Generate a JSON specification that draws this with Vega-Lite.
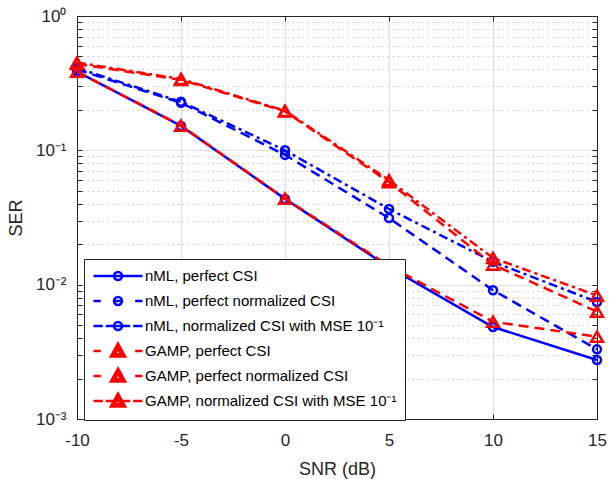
{
  "$schema": "https://vega.github.io/schema/vega-lite/v6.json",
  "width": 520,
  "height": 403,
  "autosize": {"type": "none"},
  "padding": {"left": 77, "top": 16, "right": 18, "bottom": 60},
  "background": "white",
  "config": {
    "view": {"stroke": null},
    "font": "Liberation Sans",
    "axis": {
      "domainColor": "#262626",
      "domainWidth": 1,
      "tickColor": "#262626",
      "tickWidth": 1,
      "labelColor": "#262626",
      "labelFont": "Liberation Sans",
      "labelFontSize": 17,
      "labelFlush": false,
      "titleFont": "Liberation Sans",
      "titleFontSize": 18,
      "titleFontWeight": "normal",
      "titleColor": "#262626"
    },
    "legend": {
      "orient": "none",
      "legendX": 7,
      "legendY": 243,
      "fillColor": "white",
      "strokeColor": "#262626",
      "padding": 8,
      "rowPadding": 1,
      "gridAlign": "all",
      "labelOffset": 35,
      "labelFont": "Liberation Sans",
      "labelFontSize": 15,
      "labelColor": "#000000",
      "labelLimit": 400,
      "symbolSize": 225,
      "symbolStrokeWidth": 2.5,
      "symbolOpacity": 1
    }
  },
  "data": {
    "values": [
      {"snr": -10, "ser": 0.385, "series": "nML, perfect CSI"},
      {"snr": -5, "ser": 0.152, "series": "nML, perfect CSI"},
      {"snr": 0, "ser": 0.0435, "series": "nML, perfect CSI"},
      {"snr": 5, "ser": 0.0135, "series": "nML, perfect CSI"},
      {"snr": 10, "ser": 0.00484, "series": "nML, perfect CSI"},
      {"snr": 15, "ser": 0.00275, "series": "nML, perfect CSI"},
      {"snr": -10, "ser": 0.40, "series": "nML, perfect normalized CSI"},
      {"snr": -5, "ser": 0.226, "series": "nML, perfect normalized CSI"},
      {"snr": 0, "ser": 0.0925, "series": "nML, perfect normalized CSI"},
      {"snr": 5, "ser": 0.0313, "series": "nML, perfect normalized CSI"},
      {"snr": 10, "ser": 0.0091, "series": "nML, perfect normalized CSI"},
      {"snr": 15, "ser": 0.0033, "series": "nML, perfect normalized CSI"},
      {"snr": -10, "ser": 0.41, "series": "nML, normalized CSI with MSE 10⁻¹"},
      {"snr": -5, "ser": 0.23, "series": "nML, normalized CSI with MSE 10⁻¹"},
      {"snr": 0, "ser": 0.1, "series": "nML, normalized CSI with MSE 10⁻¹"},
      {"snr": 5, "ser": 0.0366, "series": "nML, normalized CSI with MSE 10⁻¹"},
      {"snr": 10, "ser": 0.0148, "series": "nML, normalized CSI with MSE 10⁻¹"},
      {"snr": 15, "ser": 0.00744, "series": "nML, normalized CSI with MSE 10⁻¹"},
      {"snr": -10, "ser": 0.385, "series": "GAMP, perfect CSI"},
      {"snr": -5, "ser": 0.153, "series": "GAMP, perfect CSI"},
      {"snr": 0, "ser": 0.0437, "series": "GAMP, perfect CSI"},
      {"snr": 5, "ser": 0.0138, "series": "GAMP, perfect CSI"},
      {"snr": 10, "ser": 0.0053, "series": "GAMP, perfect CSI"},
      {"snr": 15, "ser": 0.0041, "series": "GAMP, perfect CSI"},
      {"snr": -10, "ser": 0.44, "series": "GAMP, perfect normalized CSI"},
      {"snr": -5, "ser": 0.335, "series": "GAMP, perfect normalized CSI"},
      {"snr": 0, "ser": 0.195, "series": "GAMP, perfect normalized CSI"},
      {"snr": 5, "ser": 0.058, "series": "GAMP, perfect normalized CSI"},
      {"snr": 10, "ser": 0.0141, "series": "GAMP, perfect normalized CSI"},
      {"snr": 15, "ser": 0.0063, "series": "GAMP, perfect normalized CSI"},
      {"snr": -10, "ser": 0.45, "series": "GAMP, normalized CSI with MSE 10⁻¹"},
      {"snr": -5, "ser": 0.34, "series": "GAMP, normalized CSI with MSE 10⁻¹"},
      {"snr": 0, "ser": 0.197, "series": "GAMP, normalized CSI with MSE 10⁻¹"},
      {"snr": 5, "ser": 0.06, "series": "GAMP, normalized CSI with MSE 10⁻¹"},
      {"snr": 10, "ser": 0.0158, "series": "GAMP, normalized CSI with MSE 10⁻¹"},
      {"snr": 15, "ser": 0.0083, "series": "GAMP, normalized CSI with MSE 10⁻¹"}
    ]
  },
  "encoding": {
    "x": {"field": "snr", "type": "quantitative", "scale": {"domain": [-10, 15], "nice": false}, "axis": null},
    "y": {"field": "ser", "type": "quantitative", "scale": {"type": "log", "domain": [0.001, 1], "nice": false}, "axis": null},
    "color": {
      "field": "series",
      "type": "nominal",
      "title": null,
      "sort": null,
      "scale": {
        "domain": ["nML, perfect CSI", "nML, perfect normalized CSI", "nML, normalized CSI with MSE 10⁻¹", "GAMP, perfect CSI", "GAMP, perfect normalized CSI", "GAMP, normalized CSI with MSE 10⁻¹"],
        "range": ["#0000ff", "#0000ff", "#0000ff", "#ff0000", "#ff0000", "#ff0000"]
      },
      "legend": {"title": null, "orient": "none", "legendX": 7, "legendY": 243}
    }
  },
  "layer": [
    {
      "transform": [{"filter": {"field": "series", "oneOf": ["nML, perfect CSI"]}}],
      "mark": {"type": "line", "strokeWidth": 2.5},
      "encoding": {
        "x": {
          "field": "snr",
          "type": "quantitative",
          "axis": {
            "values": [-10, -5, 0, 5, 10, 15],
            "labelExpr": "datum.value < 0 ? '-' + abs(datum.value) : '' + datum.value",
            "grid": true,
            "gridColor": "#dedede",
            "tickSize": -5,
            "labelPadding": 18,
            "title": "SNR (dB)",
            "titlePadding": 12
          }
        },
        "y": {
          "field": "ser",
          "type": "quantitative",
          "axis": {
            "values": [0.001, 0.002, 0.003, 0.004, 0.005, 0.006, 0.007, 0.008, 0.009, 0.01, 0.02, 0.03, 0.04, 0.05, 0.06, 0.07, 0.08, 0.09, 0.1, 0.2, 0.3, 0.4, 0.5, 0.6, 0.7, 0.8, 0.9, 1],
            "labelExpr": "datum.value==1 ? '10⁰' : datum.value==0.1 ? '10⁻¹' : datum.value==0.01 ? '10⁻²' : datum.value==0.001 ? '10⁻³' : ''",
            "grid": true,
            "gridColor": {"condition": {"test": "datum.value==1 || datum.value==0.1 || datum.value==0.01 || datum.value==0.001", "value": "#dedede"}, "value": "#c4c4c4"},
            "gridDash": {"condition": {"test": "datum.value==1 || datum.value==0.1 || datum.value==0.01 || datum.value==0.001", "value": []}, "value": [1.5, 3.5]},
            "tickSize": -5,
            "labelPadding": 16,
            "title": "SER",
            "titlePadding": 10
          }
        }
      }
    },
    {
      "transform": [{"filter": {"field": "series", "oneOf": ["nML, perfect normalized CSI"]}}],
      "mark": {"type": "line", "strokeWidth": 2.5, "strokeDash": [10, 6]}
    },
    {
      "transform": [{"filter": {"field": "series", "oneOf": ["nML, normalized CSI with MSE 10⁻¹"]}}],
      "mark": {"type": "line", "strokeWidth": 2.5, "strokeDash": [9, 4, 3, 4]}
    },
    {
      "transform": [{"filter": "indexof(datum.series, 'nML') === 0"}],
      "mark": {"type": "point", "shape": "circle", "size": 64, "filled": false, "strokeWidth": 2.5, "opacity": 1},
      "encoding": {
        "x": {
          "field": "snr",
          "type": "quantitative",
          "axis": {
            "orient": "top",
            "values": [-10, -5, 0, 5, 10, 15],
            "labels": false,
            "grid": false,
            "tickSize": -5,
            "title": null
          }
        },
        "y": {
          "field": "ser",
          "type": "quantitative",
          "axis": {
            "orient": "right",
            "values": [0.001, 0.002, 0.003, 0.004, 0.005, 0.006, 0.007, 0.008, 0.009, 0.01, 0.02, 0.03, 0.04, 0.05, 0.06, 0.07, 0.08, 0.09, 0.1, 0.2, 0.3, 0.4, 0.5, 0.6, 0.7, 0.8, 0.9, 1],
            "labels": false,
            "grid": false,
            "tickSize": -5,
            "title": null
          }
        }
      }
    },
    {
      "transform": [{"filter": {"field": "series", "oneOf": ["GAMP, perfect CSI", "GAMP, perfect normalized CSI"]}}],
      "mark": {"type": "line", "strokeWidth": 2.5, "strokeDash": [10, 6]}
    },
    {
      "transform": [{"filter": {"field": "series", "oneOf": ["GAMP, normalized CSI with MSE 10⁻¹"]}}],
      "mark": {"type": "line", "strokeWidth": 2.5, "strokeDash": [9, 4, 3, 4]}
    },
    {
      "transform": [{"filter": "indexof(datum.series, 'GAMP') === 0"}],
      "mark": {"type": "point", "shape": "triangle-up", "size": 140, "filled": false, "strokeWidth": 2.5, "opacity": 1}
    },
    {
      "transform": [{"filter": "false"}],
      "mark": {"type": "point", "filled": false, "strokeWidth": 2.5, "opacity": 1},
      "encoding": {
        "shape": {
          "field": "series",
          "type": "nominal",
          "title": null,
          "sort": null,
          "scale": {
            "domain": ["nML, perfect CSI", "nML, perfect normalized CSI", "nML, normalized CSI with MSE 10⁻¹", "GAMP, perfect CSI", "GAMP, perfect normalized CSI", "GAMP, normalized CSI with MSE 10⁻¹"],
            "range": [
              "M-1,0H5.533M2.8,0A0.533,0.533,0,1,1,1.733,0A0.533,0.533,0,1,1,2.8,0",
              "M-1,0H-0.02M4.553,0H5.533M1.733,0H2.8M2.8,0A0.533,0.533,0,1,1,1.733,0A0.533,0.533,0,1,1,2.8,0",
              "M-1,0H0.241M0.633,0H3.9M4.292,0H5.533M2.8,0A0.533,0.533,0,1,1,1.733,0A0.533,0.533,0,1,1,2.8,0",
              "M-1,0H-0.02M4.553,0H5.533M2.267,-0.987L3.213,0.733L1.32,0.733ZM2.267,-0.356L2.693,0.418L1.841,0.418Z",
              "M-1,0H-0.02M4.553,0H5.533M2.267,-0.987L3.213,0.733L1.32,0.733ZM2.267,-0.356L2.693,0.418L1.841,0.418Z",
              "M-1,0H0.241M0.633,0H3.9M4.292,0H5.533M2.267,-0.987L3.213,0.733L1.32,0.733ZM2.267,-0.356L2.693,0.418L1.841,0.418Z"
            ]
          },
          "legend": {"title": null, "orient": "none", "legendX": 7, "legendY": 243}
        }
      }
    }
  ],
  "resolve": {"axis": {"x": "independent", "y": "independent"}}
}
